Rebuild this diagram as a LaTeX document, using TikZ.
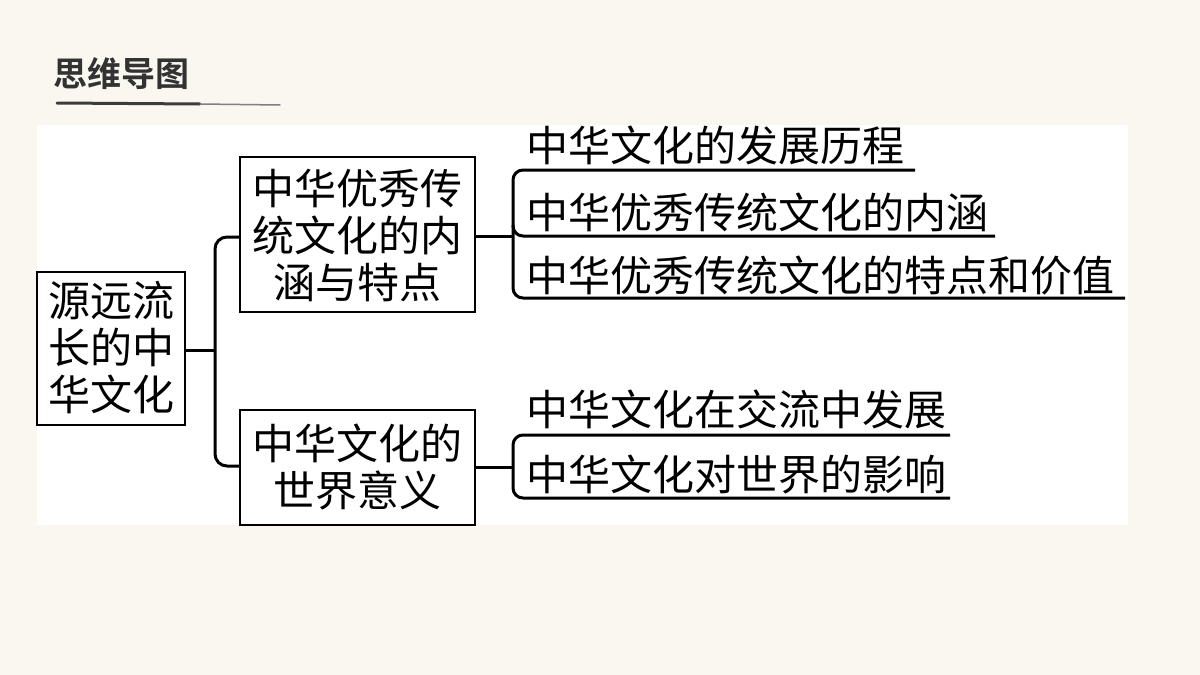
\documentclass[tikz,border=0pt]{standalone}
\usepackage{fontspec}
\newfontfamily\cjk{Noto Sans CJK SC}
\newfontfamily\cjkb{Noto Sans CJK SC Bold}
\definecolor{bgc}{RGB}{250,246,240}
\definecolor{tgray}{RGB}{50,50,50}
\definecolor{brush}{RGB}{60,60,60}
\begin{document}
\begin{tikzpicture}[x=1pt,y=-1pt,
  ln/.style={line width=3pt,black},
  bx/.style={inner sep=0pt,align=center,font=\cjk\fontsize{42}{47}\selectfont},
  it/.style={anchor=west,inner sep=0pt,font=\cjk\fontsize{42}{47}\selectfont}]
\useasboundingbox (0,0) rectangle (1200,675);
\fill[bgc] (0,0) rectangle (1200,675);
\fill[white] (37,125) rectangle (1128,525);
\node[font=\cjkb\fontsize{34}{38}\selectfont,text=tgray,anchor=west,inner sep=0pt] (title) at (53,74) {思维导图};
\draw[line width=3pt,brush,line cap=round] (57,103) -- (200,104);
\draw[line width=1.5pt,gray,line cap=round] (200,104) -- (280,105);
% boxes
\draw[line width=2.5pt] (37,272) rectangle (185,425);
\node[bx] (root) at (111,348) {源远流\\长的中\\华文化};
\draw[line width=2.5pt] (240,157) rectangle (475,312);
\node[bx] (b1) at (357,235) {中华优秀传\\统文化的内\\涵与特点};
\draw[line width=2.5pt] (240,410) rectangle (475,525);
\node[bx] (b2) at (357,467) {中华文化的\\世界意义};
\coordinate (rootE) at (185,350);
\coordinate (b1W) at (240,237);
\coordinate (b2W) at (240,466);
\coordinate (b1E) at (475,236);
\coordinate (b2E) at (475,467);
\draw[ln] (rootE) -- (215,350);
\draw[ln,rounded corners=12pt] (b1W) -- (215,237) -- (215,466) -- (b2W);
% items
\node[it] (i1) at (526,145) {中华文化的发展历程};
\node[it] (i2) at (526,212) {中华优秀传统文化的内涵};
\node[it] (i3) at (526,276) {中华优秀传统文化的特点和价值};
\node[it] (j1) at (526,409) {中华文化在交流中发展};
\node[it] (j2) at (526,475) {中华文化对世界的影响};
\draw[ln] (b1E) -- (513,236);
\draw[ln,rounded corners=10pt] (915,170) -- (513,170) -- (513,298) -- (1125,298);
\draw[ln,rounded corners=10pt] (513,225) -- (513,236) -- (995,236);
\draw[ln] (b2E) -- (513,467);
\draw[ln,rounded corners=10pt] (950,435) -- (513,435) -- (513,498) -- (950,498);
\end{tikzpicture}
\end{document}
